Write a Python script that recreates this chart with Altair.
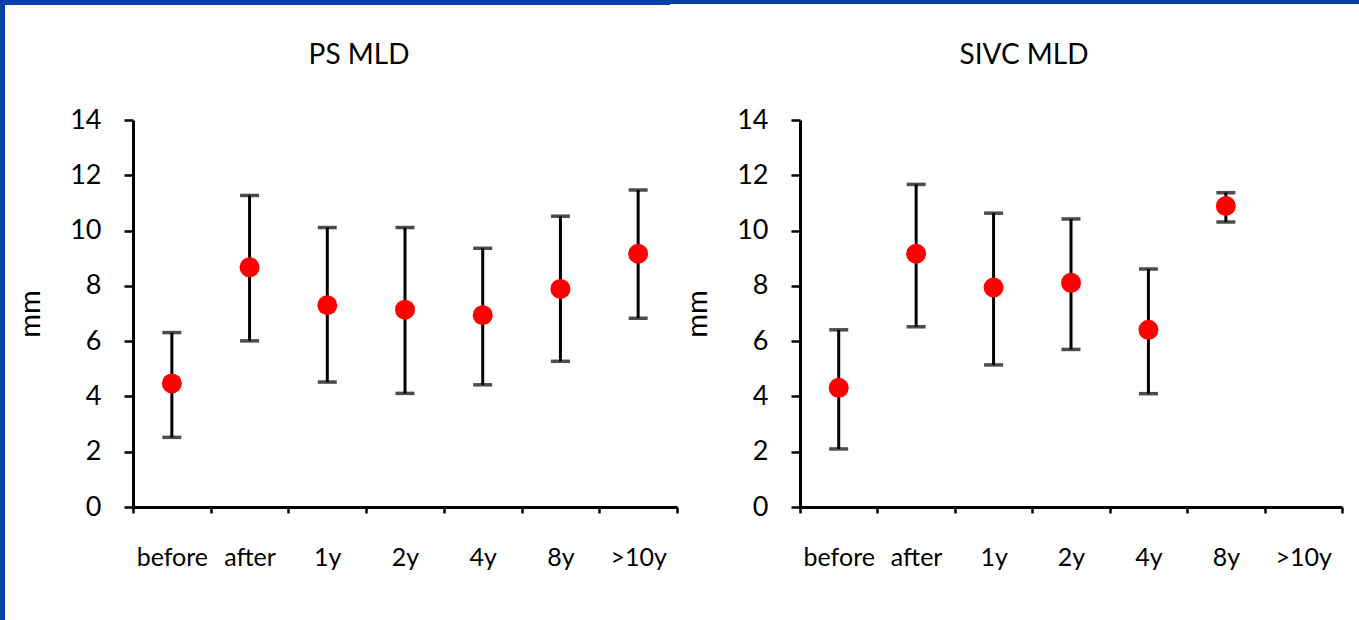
import altair as alt
import pandas as pd

categories = ["before", "after", "1y", "2y", "4y", "8y", ">10y"]

ps_mean = [4.47, 8.67, 7.30, 7.14, 6.94, 7.89, 9.16]
ps_upper = [6.31, 11.27, 10.11, 10.11, 9.36, 10.52, 11.47]
ps_lower = [2.52, 6.01, 4.52, 4.11, 4.42, 5.27, 6.83]

sivc_mean = [4.31, 9.16, 7.94, 8.11, 6.41, 10.89, None]
sivc_upper = [6.41, 11.67, 10.63, 10.42, 8.61, 11.37, None]
sivc_lower = [2.10, 6.52, 5.14, 5.70, 4.10, 10.31, None]

y_ticks = [0, 2, 4, 6, 8, 10, 12, 14]

FONT = "Lato"
BLUE = "#0540AA"
H = 387


def frame(mean, lower, upper):
    rows = []
    for i, (c, m, lo, hi) in enumerate(zip(categories, mean, lower, upper)):
        if m is None:
            continue
        rows.append({"cat": c, "pos": i + 0.5, "mean": m, "lo": lo, "hi": hi})
    return pd.DataFrame(rows)


def panel(title, mean, lower, upper, width, title_dx):
    df = frame(mean, lower, upper)
    n = len(categories)
    cats_js = "[" + ",".join("'" + c + "'" for c in categories) + "]"
    xscale = alt.Scale(domain=[0, n], nice=False, zero=False)
    # ticks sit on category boundaries; each label is shifted back half a band
    xaxis = alt.Axis(
        values=list(range(n + 1)),
        labelExpr=f"datum.value > 0 ? {cats_js}[datum.value - 1] : ''",
        labelOffset=-width / (2 * n),
        labelFlush=False, labelOverlap=False, labelBound=False,
        title=None, grid=False,
        domainColor="black", domainWidth=3,
        tickColor="black", tickWidth=2.5, tickSize=6,
        labelFont=FONT, labelFontSize=25, labelColor="black",
        labelPadding=32,
    )
    yscale = alt.Scale(domain=[0, 14], nice=False, zero=True)
    yaxis = alt.Axis(
        values=y_ticks, title="mm", grid=False,
        domainColor="black", domainWidth=3,
        tickColor="black", tickWidth=2.5, tickSize=9,
        labelFont=FONT, labelFontSize=27, labelColor="black",
        labelPadding=23,
        titleFont=FONT, titleFontSize=29, titleFontWeight="normal",
        titleColor="black", titlePadding=24,
    )
    x = alt.X("pos:Q", scale=xscale, axis=xaxis)

    def y(field):
        return alt.Y(f"{field}:Q", scale=yscale, axis=yaxis, title="mm")

    base = alt.Chart(df)
    bars = base.mark_rule(color="black", strokeWidth=3).encode(
        x=x, y=y("lo"), y2="hi:Q",
    )
    cap_hi = base.mark_tick(color="black", orient="horizontal", thickness=3.5, size=19).encode(
        x=x, y=y("hi"),
    )
    cap_lo = base.mark_tick(color="black", orient="horizontal", thickness=3.5, size=19).encode(
        x=x, y=y("lo"),
    )
    pts = base.mark_circle(color="#FF0000", size=400, opacity=1).encode(
        x=x, y=y("mean"),
    )
    return alt.layer(bars, cap_hi, cap_lo, pts).properties(
        width=width, height=H,
        title=alt.TitleParams(
            text=title, font=FONT, fontSize=28, fontWeight="normal", color="black",
            anchor="middle", frame="group", dx=title_dx,
            baseline="alphabetic", offset=14,
        ),
    )


# decorative slide frame (blue bars on the top and left edges)
edge = pd.DataFrame({"k": [0]})
border = alt.layer(
    alt.Chart(edge).mark_rect(color=BLUE, strokeWidth=0).encode(
        x=alt.value(0), x2=alt.value(670), y=alt.value(-120), y2=alt.value(-115)
    ),
    alt.Chart(edge).mark_rect(color=BLUE, strokeWidth=0).encode(
        x=alt.value(670), x2=alt.value(1359), y=alt.value(-120), y2=alt.value(-116)
    ),
    alt.Chart(edge).mark_rect(color=BLUE, strokeWidth=0).encode(
        x=alt.value(0), x2=alt.value(5), y=alt.value(-120), y2=alt.value(500)
    ),
).properties(width=10, height=H)

left = panel("PS MLD", ps_mean, ps_lower, ps_upper, 544, -46)
right = panel("SIVC MLD", sivc_mean, sivc_lower, sivc_upper, 542, -47)

chart = alt.hconcat(border, left, right, spacing=123).properties(
    bounds="flush", padding=0, background="white"
).configure_view(stroke=None)

chart.save("out.html", embed_options={"renderer": "svg", "actions": False})
